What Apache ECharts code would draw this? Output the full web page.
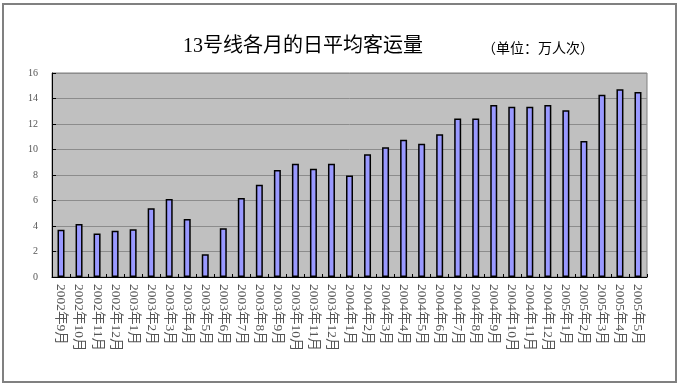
<!DOCTYPE html>
<html>
<head>
<meta charset="utf-8">
<script src="https://cdn.jsdelivr.net/npm/echarts@6/dist/echarts.min.js"></script>
<style>
html,body{margin:0;padding:0;background:#fff;}
#c{width:684px;height:389px;}
</style>
</head>
<body>
<div id="c"></div>
<script>
var categories = ['2002年9月','2002年10月','2002年11月','2002年12月',
  '2003年1月','2003年2月','2003年3月','2003年4月','2003年5月','2003年6月','2003年7月','2003年8月','2003年9月','2003年10月','2003年11月','2003年12月',
  '2004年1月','2004年2月','2004年3月','2004年4月','2004年5月','2004年6月','2004年7月','2004年8月','2004年9月','2004年10月','2004年11月','2004年12月',
  '2005年1月','2005年2月','2005年3月','2005年4月','2005年5月'];
var values = [3.7,4.15,3.42,3.63,3.74,5.39,6.12,4.55,1.78,3.82,6.2,7.24,8.39,8.89,8.5,8.89,
  7.97,9.62,10.17,10.77,10.46,11.19,12.44,12.44,13.49,13.36,13.36,13.49,13.07,10.67,14.3,14.72,14.51];
var yTicks = [0,2,4,6,8,10,12,14,16];
var titleText = '13号线各月的日平均客运量';
var unitText = '（单位：万人次）';

var chart = echarts.init(document.getElementById('c'), null, {renderer:'canvas'});
chart.setOption({
  animation:false,
  backgroundColor:'#ffffff',
  title:[
    {text:titleText, left:298, top:42, textAlign:'center', textVerticalAlign:'middle',
     textStyle:{fontFamily:'"Liberation Serif","Noto Sans CJK SC",serif', fontSize:20, fontWeight:'normal', color:'#000'}},
    {text:unitText, left:533, top:43, textAlign:'center', textVerticalAlign:'middle',
     textStyle:{fontFamily:'"Noto Sans CJK SC",serif', fontSize:14, fontWeight:'normal', color:'#000'}}
  ],
  graphic:[
    {type:'rect', shape:{x:3, y:4, width:673, height:378}, style:{fill:null, stroke:'#808080', lineWidth:2}, z:-1}
  ],
  grid:{left:52, right:37, top:73, bottom:112, show:true, backgroundColor:'#C0C0C0', borderColor:'#808080', borderWidth:1},
  xAxis:{
    type:'category', data:categories,
    axisLine:{lineStyle:{color:'#000', width:1}},
    axisTick:{show:true, inside:true, length:3, lineStyle:{color:'#000'}},
    axisLabel:{rotate:-90, interval:0, margin:7, color:'#555',
      fontFamily:'"Liberation Serif","Noto Sans CJK SC",serif', fontSize:13.5},
    splitLine:{show:false}
  },
  yAxis:{
    type:'value', min:yTicks[0], max:yTicks[yTicks.length-1], interval:2,
    axisLine:{show:true, lineStyle:{color:'#000', width:1}},
    axisTick:{show:true, inside:true, length:4, lineStyle:{color:'#000'}},
    axisLabel:{margin:14, color:'#555', fontFamily:'"Liberation Serif",serif', fontSize:10},
    splitLine:{show:true, lineStyle:{color:'#8c8c8c', width:1}}
  },
  series:[{
    type:'bar', data:values, barWidth:7,
    itemStyle:{color:'#9999FF', borderColor:'#000', borderWidth:1.5}
  }]
});
</script>
</body>
</html>
